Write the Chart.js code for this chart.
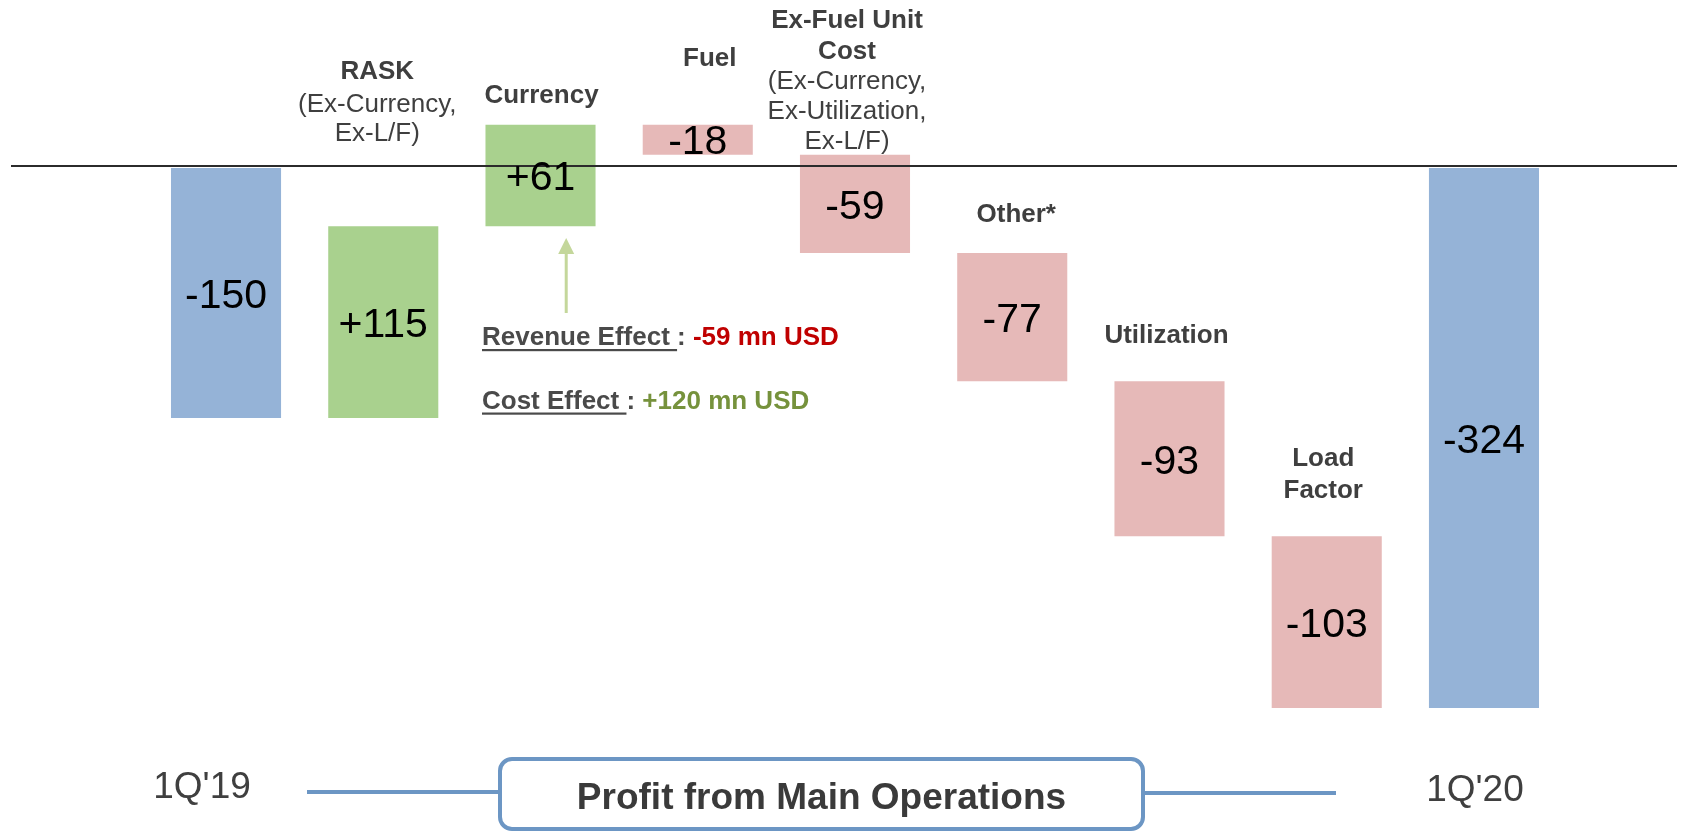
<!DOCTYPE html>
<html>
<head>
<meta charset="utf-8">
<script src="https://cdn.jsdelivr.net/npm/chart.js@4/dist/chart.umd.min.js"></script>
<style>
  html, body { margin: 0; padding: 0; background: #ffffff; }
  #wrap { width: 1681px; height: 832px; position: relative; }
  canvas { display: block; }
</style>
</head>
<body>
<div id="wrap"><canvas id="c" width="1681" height="832"></canvas></div>
<script>
// ---- data ----
const categories = ["1Q'19", "RASK", "Currency", "Fuel", "Ex-Fuel Unit Cost", "Other*", "Utilization", "Load Factor", "1Q'20"];
const deltas = [-150, 115, 61, -18, -59, -77, -93, -103, -324];
const isTotal = [true, false, false, false, false, false, false, false, true];
const valueLabels = ["-150", "+115", "+61", "-18", "-59", "-77", "-93", "-103", "-324"];
const categoryLabelLines = [
  [["1Q'19", "r"]],
  [["RASK", "b"], ["(Ex-Currency,", "r"], ["Ex-L/F)", "r"]],
  [["Currency", "b"]],
  [["Fuel", "b"]],
  [["Ex-Fuel Unit", "b"], ["Cost", "b"], ["(Ex-Currency,", "r"], ["Ex-Utilization,", "r"], ["Ex-L/F)", "r"]],
  [["Other*", "b"]],
  [["Utilization", "b"]],
  [["Load", "b"], ["Factor", "b"]],
  [["1Q'20", "r"]]
];
const revenueEffect = ["Revenue Effect ", ": ", "-59 mn USD"];
const costEffect = ["Cost Effect ", ": ", "+120 mn USD"];
const footerLabel = "Profit from Main Operations";

// ---- waterfall table built from the data ----
let cum = 0;
const floats = deltas.map((d, i) => {
  if (isTotal[i]) { cum = d; return [0, d]; }
  const s = cum; cum += d; return [s, cum];
});
const colors = deltas.map((d, i) => isTotal[i] ? '#95B3D7' : (d >= 0 ? '#A9D18E' : '#E6B9B8'));

// ---- layout (styles / positions only) ----
const FONT = '"Liberation Sans", Arial, sans-serif';
const labelLayout = [
  { dx: -24, ys: [798], size: 37 },
  { dx: -6, ys: [79, 111.5, 141], size: 26 },
  { dx: 1, ys: [102.5], size: 26 },
  { dx: 12, ys: [66], size: 26 },
  { dx: -8, ys: [27.5, 58.5, 89, 118.5, 148.5], size: 26 },
  { dx: 4, ys: [221.5], size: 26 },
  { dx: -3, ys: [343], size: 26 },
  { dx: -3.5, ys: [466, 498], size: 26 },
  { dx: -9, ys: [801], size: 37 }
];

const overlay = {
  id: 'overlay',
  afterDatasetsDraw(chart) {
    const ctx = chart.ctx;
    const meta = chart.getDatasetMeta(0);
    const y = chart.scales.y;
    ctx.save();

    // zero line
    const zero = y.getPixelForValue(0);
    ctx.strokeStyle = '#2b2b2b';
    ctx.lineWidth = 2;
    ctx.beginPath();
    ctx.moveTo(11, zero - 2);
    ctx.lineTo(1677, zero - 2);
    ctx.stroke();

    // value labels centered in bars
    ctx.fillStyle = '#000000';
    ctx.textAlign = 'center';
    ctx.textBaseline = 'alphabetic';
    ctx.font = '41px ' + FONT;
    meta.data.forEach((bar, i) => {
      const p = bar.getProps(['x', 'y', 'base'], true);
      const mid = (p.y + p.base) / 2;
      ctx.fillText(valueLabels[i], p.x, mid + 0.716 * 41 / 2);
    });

    // category labels
    ctx.fillStyle = '#3f3f3f';
    categoryLabelLines.forEach((lines, i) => {
      const lay = labelLayout[i];
      const x = meta.data[i].x + lay.dx;
      lines.forEach((ln, j) => {
        ctx.font = (ln[1] === 'b' ? 'bold ' : '') + lay.size + 'px ' + FONT;
        ctx.fillText(ln[0], x, lay.ys[j]);
      });
    });

    // arrow under Currency bar
    const ax = meta.data[2].x + 25.7;
    ctx.strokeStyle = '#C4D79B';
    ctx.fillStyle = '#C4D79B';
    ctx.lineWidth = 3;
    ctx.beginPath();
    ctx.moveTo(ax, 313);
    ctx.lineTo(ax, 252);
    ctx.stroke();
    ctx.beginPath();
    ctx.moveTo(ax, 238);
    ctx.lineTo(ax - 8, 254);
    ctx.lineTo(ax + 8, 254);
    ctx.closePath();
    ctx.fill();

    // effect texts
    function effect(parts, x0, base, valColor) {
      ctx.textAlign = 'left';
      ctx.font = 'bold 26px ' + FONT;
      let x = x0;
      ctx.fillStyle = '#4a4a4a';
      ctx.fillText(parts[0], x, base);
      const w0 = ctx.measureText(parts[0]).width;
      ctx.fillRect(x, base + 4, w0, 2.2);
      x += w0;
      ctx.fillText(parts[1], x, base);
      x += ctx.measureText(parts[1]).width;
      ctx.fillStyle = valColor;
      ctx.fillText(parts[2], x, base);
    }
    effect(revenueEffect, 482, 345, '#C00000');
    effect(costEffect, 482, 408.5, '#76923C');

    // footer box and connecting lines
    ctx.strokeStyle = '#6C96C4';
    ctx.lineWidth = 4;
    ctx.beginPath();
    ctx.moveTo(307, 792);
    ctx.lineTo(500, 792);
    ctx.moveTo(1143, 793);
    ctx.lineTo(1336, 793);
    ctx.stroke();
    ctx.fillStyle = '#ffffff';
    ctx.beginPath();
    ctx.roundRect(500, 759, 643, 70, 12);
    ctx.fill();
    ctx.stroke();
    ctx.fillStyle = '#3a3a3a';
    ctx.textAlign = 'center';
    ctx.font = 'bold 37px ' + FONT;
    ctx.fillText(footerLabel, 821.5, 808.5);

    ctx.restore();
  }
};

new Chart(document.getElementById('c'), {
  type: 'bar',
  data: {
    labels: categories,
    datasets: [{
      data: floats,
      backgroundColor: colors,
      borderWidth: 0,
      borderSkipped: false,
      categoryPercentage: 0.70,
      barPercentage: 1.0
    }]
  },
  options: {
    responsive: false,
    devicePixelRatio: 1,
    animation: false,
    layout: { padding: { left: 147.4, right: 118.4, top: 0, bottom: 0 } },
    plugins: { legend: { display: false }, tooltip: { enabled: false }, title: { display: false } },
    scales: {
      x: { display: false, offset: true },
      y: { display: false, min: -398.4, max: 100.8 }
    }
  },
  plugins: [overlay]
});
</script>
</body>
</html>
